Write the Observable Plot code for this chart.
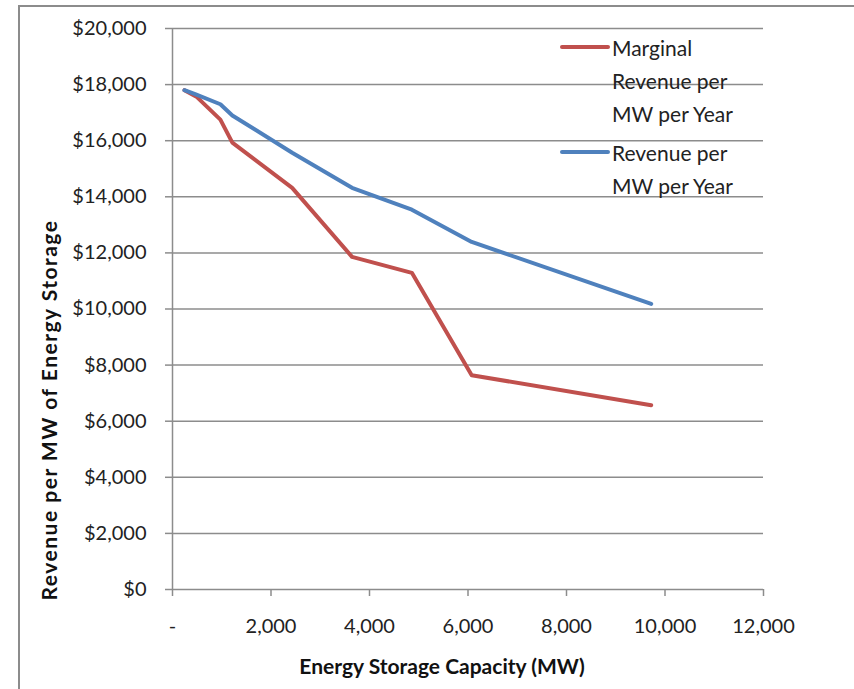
<!DOCTYPE html>
<html>
<head>
<meta charset="utf-8">
<script src="https://cdn.jsdelivr.net/npm/d3@7"></script>
<script src="https://cdn.jsdelivr.net/npm/@observablehq/plot@0.6"></script>
<style>
  html, body { margin: 0; padding: 0; background: #fff; }
  #wrap { position: relative; width: 854px; height: 689px; overflow: hidden; font-family: Lato, "Liberation Sans", sans-serif; }
  #frame { position: absolute; left: 18px; top: 5px; width: 900px; height: 800px; border-top: 2px solid #8c8c8c; border-left: 2px solid #8c8c8c; pointer-events: none; }
  .leg { position: absolute; font-size: 21px; color: #222; line-height: 33px; white-space: nowrap; }
  .sw { position: absolute; height: 4px; width: 50px; border-radius: 2px; }
  #ytitle { position: absolute; left: 48px; top: 410px; transform: translate(-50%, -50%) rotate(-90deg); white-space: nowrap; font-weight: bold; font-size: 21px; letter-spacing: 1.5px; color: #111; }
</style>
</head>
<body>
<div id="wrap">
  <div id="chart"></div>
  <div id="frame"></div>
  <div id="legend"></div>
  <div id="ytitle"></div>
</div>
<script>
const capacity = [243, 486, 972, 1215, 2430, 3645, 4860, 6075, 9720];
const marginalRevenue = [17800, 17570, 16750, 15930, 14320, 11860, 11290, 7640, 6570];
const revenue = [17800, 17640, 17300, 16900, 15570, 14320, 13540, 12390, 10180];
const seriesNames = ["Marginal Revenue per MW per Year", "Revenue per MW per Year"];
const seriesColors = ["#C0504D", "#4F81BD"];
const xTicks = [0, 2000, 4000, 6000, 8000, 10000, 12000];
const yTicks = [0, 2000, 4000, 6000, 8000, 10000, 12000, 14000, 16000, 18000, 20000];
const xTitle = "Energy Storage Capacity (MW)";
const yTitle = "Revenue per MW of Energy Storage";

const rows = [];
capacity.forEach((c, i) => {
  rows.push({series: seriesNames[0], x: c, y: marginalRevenue[i]});
  rows.push({series: seriesNames[1], x: c, y: revenue[i]});
});

const grid = "#8c8c8c";
const chart = Plot.plot({
  width: 854,
  height: 689,
  marginLeft: 172,
  marginRight: 91,
  marginTop: 28,
  marginBottom: 100,
  style: {fontFamily: "Lato, 'Liberation Sans', sans-serif", fontSize: "20px", color: "#222", background: "transparent"},
  x: {domain: [0, 12000]},
  y: {domain: [0, 20000]},
  color: {domain: seriesNames, range: seriesColors},
  marks: [
    Plot.ruleY(yTicks, {stroke: grid, strokeWidth: 1.5, strokeOpacity: 1}),
    Plot.ruleX([0], {stroke: grid, strokeWidth: 1.5}),
    Plot.axisY({ticks: yTicks, tickSize: 7, tickPadding: 19, stroke: grid, strokeOpacity: 1, strokeWidth: 1.5,
      tickFormat: d => "$" + d3.format(",")(d), label: null}),
    Plot.axisX({ticks: xTicks, tickSize: 7, tickPadding: 22, stroke: grid, strokeOpacity: 1, strokeWidth: 1.5,
      tickFormat: d => d === 0 ? "-" : d3.format(",")(d), label: null}),
    Plot.line(rows, {x: "x", y: "y", z: "series", stroke: "series", strokeWidth: 4, strokeLinejoin: "round", strokeLinecap: "round"}),
    Plot.text([xTitle], {frameAnchor: "bottom", dy: 84, dx: -26, fontWeight: "bold", fontSize: 21, fill: "#111"})
  ]
});
document.getElementById("chart").appendChild(chart);
document.getElementById("ytitle").textContent = yTitle;

// legend (HTML overlay)
const legend = document.getElementById("legend");
const legendLines = [["Marginal", "Revenue per", "MW per Year"], ["Revenue per", "MW per Year"]];
const legendTop = [31, 136];
legendLines.forEach((lines, i) => {
  const sw = document.createElement("div");
  sw.className = "sw";
  sw.style.left = "560px";
  sw.style.top = (legendTop[i] + 14) + "px";
  sw.style.background = seriesColors[i];
  legend.appendChild(sw);
  const t = document.createElement("div");
  t.className = "leg";
  t.style.left = "612px";
  t.style.top = legendTop[i] + "px";
  t.innerHTML = lines.join("<br>");
  legend.appendChild(t);
});
</script>
</body>
</html>
